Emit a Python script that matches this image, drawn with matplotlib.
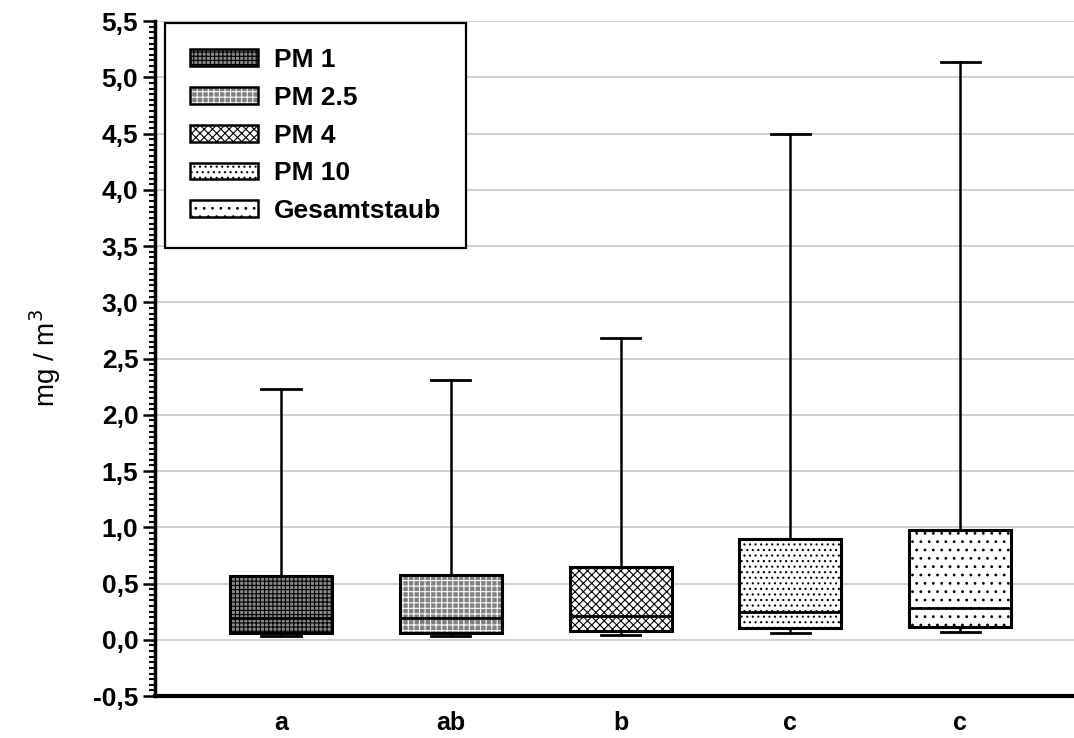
import numpy as np
import matplotlib.pyplot as plt
from matplotlib.patches import Rectangle, Patch
from matplotlib.legend_handler import HandlerTuple
from matplotlib.ticker import MultipleLocator, FuncFormatter

plt.rcParams['font.family'] = ['Liberation Sans', 'DejaVu Sans']
plt.rcParams['hatch.linewidth'] = 0.8

# box plot statistics per fraction (mg/m3)
names = ['PM 1', 'PM 2.5', 'PM 4', 'PM 10', 'Gesamtstaub']
groups = ['a', 'ab', 'b', 'c', 'c']
whisk_lo = [0.033, 0.033, 0.042, 0.057, 0.066]
q1 = [0.057, 0.063, 0.078, 0.107, 0.110]
median = [0.19, 0.196, 0.214, 0.244, 0.279]
q3 = [0.57, 0.575, 0.644, 0.90, 0.978]
whisk_hi = [2.23, 2.31, 2.68, 4.50, 5.14]

# fill, hatch, hatch colour
styles = [('#8a8a8a', '++++', 'black'),
          ('#808080', '+++', 'white'),
          ('white', 'xxxx', 'black'),
          ('white', '...', 'black'),
          ('white', '..', 'black')]

fig = plt.figure(figsize=(10.74, 7.38), dpi=100)
ax = fig.add_axes([0.1443, 0.0569, 0.8557, 0.9146])

pos = np.arange(1, len(names) + 1)
bw = 0.6
cap = 0.23
handles = []
for i, x in enumerate(pos):
    fc, hatch, hc = styles[i]
    ax.add_patch(Rectangle((x - bw/2, q1[i]), bw, q3[i] - q1[i], facecolor=fc,
                           edgecolor=hc, hatch=hatch, lw=0, zorder=3))
    ax.add_patch(Rectangle((x - bw/2, q1[i]), bw, q3[i] - q1[i], fill=False,
                           edgecolor='black', lw=2.2, zorder=4))
    ax.plot([x - bw/2, x + bw/2], [median[i]] * 2, color='black', lw=2, zorder=4)
    ax.plot([x, x], [q3[i], whisk_hi[i]], color='black', lw=1.8, zorder=3)
    ax.plot([x, x], [whisk_lo[i], q1[i]], color='black', lw=1.8, zorder=3)
    ax.plot([x - cap/2, x + cap/2], [whisk_hi[i]] * 2, color='black', lw=2, zorder=3)
    ax.plot([x - cap/2, x + cap/2], [whisk_lo[i]] * 2, color='black', lw=2, zorder=3)
    handles.append((Patch(facecolor=fc, edgecolor=hc, hatch=hatch, lw=0),
                    Patch(fill=False, edgecolor='black', lw=1.8)))

ax.set_xlim(0.258, 5.67)
ax.set_ylim(-0.5, 5.5)
ax.yaxis.set_major_locator(MultipleLocator(0.5))
ax.yaxis.set_minor_locator(MultipleLocator(0.05))
ax.yaxis.set_major_formatter(FuncFormatter(lambda v, p: ('%.1f' % v).replace('.', ',')))
ax.set_xticks(pos)
ax.set_xticklabels(groups)
ax.tick_params(axis='x', length=0, pad=11, labelsize=18)
ax.tick_params(axis='y', which='major', length=9, width=1.8, labelsize=19, pad=3)
ax.tick_params(axis='y', which='minor', length=4.5, width=1.5)
for lab in ax.get_xticklabels() + ax.get_yticklabels():
    lab.set_fontweight('bold')

ax.grid(axis='y', color='#c8c8c8', lw=1.2, zorder=0)
ax.set_axisbelow(True)
ax.spines['top'].set_visible(False)
ax.spines['right'].set_visible(False)
ax.spines['left'].set_linewidth(2.5)
ax.spines['bottom'].set_linewidth(3)

ax.set_ylabel('mg / m$^3$', fontsize=20)
ax.yaxis.set_label_coords(-0.100, 0.5)

leg = ax.legend(handles, names, handler_map={tuple: HandlerTuple(ndivide=1)},
                loc='upper left', bbox_to_anchor=(0.011, 0.997), borderaxespad=0,
                fancybox=False, framealpha=1, edgecolor='black',
                handlelength=2.58, handleheight=0.6, borderpad=0.95,
                labelspacing=0.52, handletextpad=0.6,
                prop={'weight': 'bold', 'size': 19})
leg.get_frame().set_linewidth(1.6)

fig.savefig('out.png', dpi=100)
